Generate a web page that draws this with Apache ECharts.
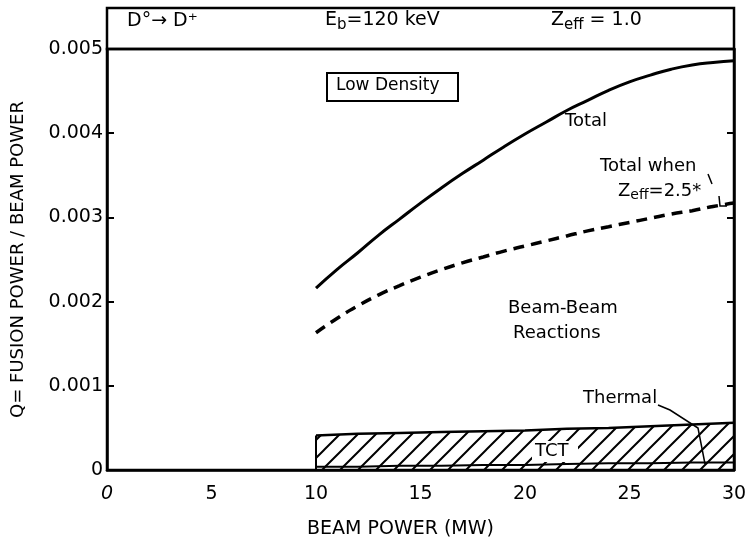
<!DOCTYPE html>
<html lang="en">
<head>
    <meta charset="utf-8" />
    <title>Q vs beam power</title>
    <script src="https://cdn.jsdelivr.net/npm/echarts@6/dist/echarts.min.js"></script>
    <style>
        html, body { margin: 0; padding: 0; background: #fff; }
    </style>
</head>
<body>
    <div id="main" style="width: 752px;height:544px;"></div>
    <script type="text/javascript">

        // beam power (MW) sample points
        var beamPower = [10, 11, 12, 13, 14, 15, 16, 17, 18, 19, 20, 21, 22, 23, 24, 25, 26, 27, 28, 29, 30];
        // Total Q, Zeff = 1.0
        var totalQ = [0.00216, 0.00238, 0.00258, 0.00279, 0.00298, 0.00317, 0.00335, 0.00352, 0.00368, 0.00384, 0.00399,
            0.00413, 0.00427, 0.00439, 0.00451, 0.00461, 0.00469, 0.00476, 0.00481, 0.00484, 0.00486];
        // Total Q when Zeff = 2.5
        var totalZeff25 = [0.00163, 0.00180, 0.00195, 0.00208, 0.00219, 0.00229, 0.00238, 0.00246, 0.00253, 0.00260, 0.00266,
            0.00272, 0.00278, 0.00284, 0.00289, 0.00294, 0.00299, 0.00304, 0.00308, 0.00313, 0.00317];
        // TCT + thermal band
        var bandPower = [10, 12, 14, 16, 18, 20, 22, 24, 26, 28, 30];
        var tctTop = [0.00041, 0.00043, 0.00044, 0.00045, 0.00046, 0.00047, 0.00049, 0.00050, 0.00052, 0.00054, 0.00056];
        var thermal = [0.00004, 0.00004, 0.00005, 0.00005, 0.00006, 0.00006, 0.00007, 0.00008, 0.00008, 0.00009, 0.00009];

        var xTicks = [0, 5, 10, 15, 20, 25, 30];
        var yTicks = [0, 0.001, 0.002, 0.003, 0.004, 0.005];

        function pairs(xs, ys) {
            return xs.map(function (x, i) { return [x, ys[i]]; });
        }

        // hatch pattern for TCT region
        var hatch = document.createElement('canvas');
        hatch.width = 18; hatch.height = 18;
        var hc = hatch.getContext('2d');
        hc.strokeStyle = '#000';
        hc.lineWidth = 2;
        hc.beginPath();
        hc.moveTo(0, 18); hc.lineTo(18, 0);
        hc.moveTo(-9, 9); hc.lineTo(9, -9);
        hc.moveTo(9, 27); hc.lineTo(27, 9);
        hc.stroke();

        var font = 'DejaVu Sans';
        var myChart = echarts.init(document.getElementById('main'));

        var yAxisBase = {
            type: 'value',
            min: yTicks[0],
            max: yTicks[yTicks.length - 1],
            interval: 0.001,
            splitLine: { show: false },
            axisLine: { show: true, lineStyle: { color: '#000', width: 2.5 } },
            axisTick: { show: true, inside: true, length: 7, lineStyle: { color: '#000', width: 2 } }
        };

        function lbl(x, y, text, size) {
            return { type: 'text', left: x, top: y, z: 110, style: { text: text, font: size + 'px "DejaVu Sans"', fill: '#000' } };
        }
        function subLbl(x, y, main, sub, rest, size) {
            return {
                type: 'text', left: x, top: y, z: 110,
                style: {
                    text: '{b|' + main + '}{s|' + sub + '}{b|' + rest + '}', fill: '#000',
                    rich: {
                        b: { fontFamily: font, fontSize: size, color: '#000' },
                        s: { fontFamily: font, fontSize: size - 4, color: '#000', padding: [9, 0, 0, 0] }
                    }
                }
            };
        }

        option = {
            backgroundColor: '#fff',
            animation: false,
            grid: {
                left: 107, right: 18, top: 49, bottom: 69,
                show: true, borderColor: '#000', borderWidth: 2.5, backgroundColor: 'transparent'
            },
            xAxis: {
                type: 'value',
                min: xTicks[0],
                max: xTicks[xTicks.length - 1],
                interval: 5,
                name: 'BEAM POWER (MW)',
                nameLocation: 'middle',
                nameGap: 50,
                nameTextStyle: { fontFamily: font, fontSize: 19, color: '#000', padding: [0, 40, 0, 0] },
                splitLine: { show: false },
                axisLine: { lineStyle: { color: '#000', width: 2.5 } },
                axisTick: { show: false },
                axisLabel: {
                    fontFamily: font, fontSize: 19, color: '#000', margin: 15,
                    formatter: function (v) { return v === 0 ? '{i|0}' : String(v); },
                    rich: { i: { fontFamily: font, fontSize: 19, fontStyle: 'italic', color: '#000' } }
                }
            },
            yAxis: [
                Object.assign({}, yAxisBase, {
                    position: 'left',
                    name: 'Q= FUSION POWER / BEAM POWER',
                    nameLocation: 'middle',
                    nameGap: 80,
                    nameRotate: 90,
                    nameTextStyle: { fontFamily: font, fontSize: 18, color: '#000' },
                    axisLabel: {
                        fontFamily: font, fontSize: 19, color: '#000', margin: 4,
                        formatter: function (v) { return v === 0 ? '0' : v.toFixed(3); }
                    }
                }),
                Object.assign({}, yAxisBase, {
                    position: 'right',
                    axisLabel: { show: false }
                })
            ],
            series: [
                {
                    name: 'TCT',
                    type: 'line',
                    data: pairs(bandPower, tctTop),
                    symbol: 'none',
                    lineStyle: { color: '#000', width: 2.5 },
                    areaStyle: { color: { image: hatch, repeat: 'repeat' }, opacity: 1 },
                    z: 2
                },
                {
                    name: 'TCT edge',
                    type: 'line',
                    data: [[bandPower[0], 0], [bandPower[0], tctTop[0]]],
                    symbol: 'none',
                    lineStyle: { color: '#000', width: 2 }
                },
                {
                    name: 'Thermal',
                    type: 'line',
                    data: pairs(bandPower, thermal),
                    symbol: 'none',
                    lineStyle: { color: '#000', width: 2 }
                },
                {
                    name: 'Total',
                    type: 'line',
                    data: pairs(beamPower, totalQ),
                    smooth: true,
                    symbol: 'none',
                    lineStyle: { color: '#000', width: 3 }
                },
                {
                    name: 'Total when Zeff=2.5',
                    type: 'line',
                    data: pairs(beamPower, totalZeff25),
                    smooth: true,
                    symbol: 'none',
                    lineStyle: { color: '#000', width: 3.5, type: [11, 7] }
                }
            ],
            graphic: [
                // header strip
                { type: 'rect', shape: { x: 107, y: 8, width: 627, height: 41 }, style: { fill: 'none', stroke: '#000', lineWidth: 2.5 } },
                lbl(127, 12, 'D°→ D⁺', 19),
                subLbl(325, 11, 'E', 'b', '=120 keV', 19),
                subLbl(551, 11, 'Z', 'eff', ' = 1.0', 19),
                // Low Density box
                { type: 'rect', shape: { x: 327, y: 73, width: 131, height: 28 }, style: { fill: '#fff', stroke: '#000', lineWidth: 2 } },
                lbl(336, 77, 'Low Density', 17),
                // curve labels
                lbl(565, 112, 'Total', 18),
                lbl(600, 157, 'Total when', 18),
                subLbl(618, 182, 'Z', 'eff', '=2.5*', 18),
                { type: 'polyline', shape: { points: [[708, 174], [712, 184]] }, style: { stroke: '#000', lineWidth: 1.5, fill: 'none' } },
                { type: 'polyline', shape: { points: [[719, 196], [720, 206], [727, 206]] }, style: { stroke: '#000', lineWidth: 1.5, fill: 'none' } },
                lbl(508, 299, 'Beam-Beam', 18),
                lbl(513, 324, 'Reactions', 18),
                lbl(583, 389, 'Thermal', 18),
                { type: 'polyline', shape: { points: [[658, 405], [670, 410], [698, 428], [705, 464]] }, style: { stroke: '#000', lineWidth: 1.5, fill: 'none' } },
                { type: 'rect', shape: { x: 532, y: 441, width: 46, height: 21 }, style: { fill: '#fff' }, z: 100 },
                lbl(535, 442, 'TCT', 18)
            ]
        };

        myChart.setOption(option);

    </script>
</body>
</html>
